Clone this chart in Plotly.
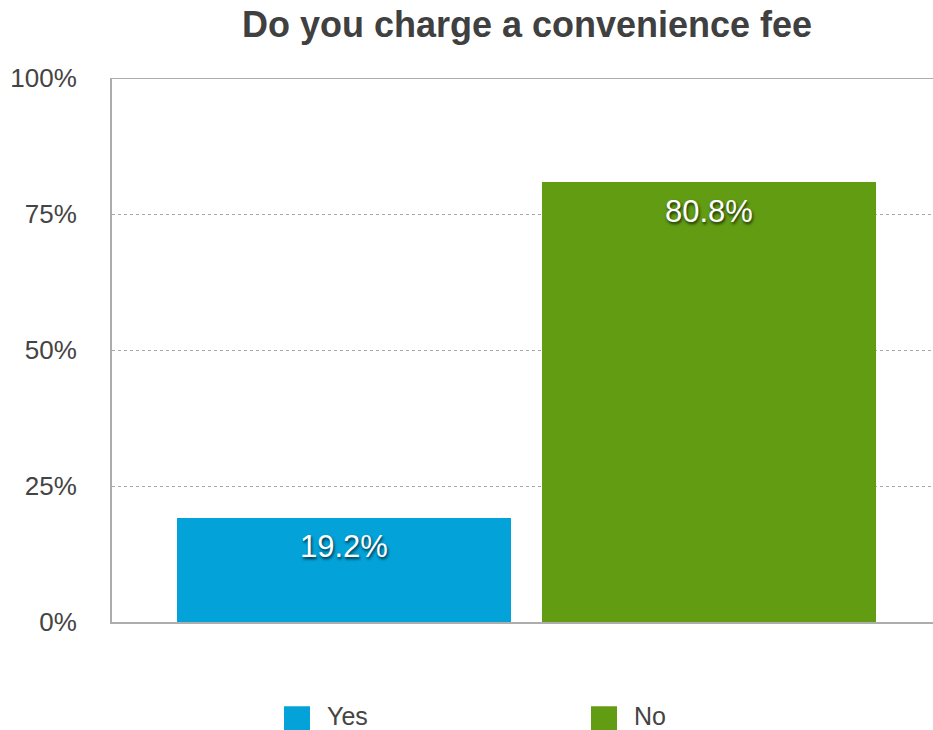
import plotly.graph_objects as go

# Survey answers and their shares
categories = ["Yes", "No"]
shares = [0.192, 0.808]
bar_colors = ["#03A3D9", "#629C13"]
tick_values = [0, 0.25, 0.5, 0.75, 1.0]
tick_text = ["0%", "25%", "50%", "75%", "100%"]

FONT = "Liberation Sans, Arial, Helvetica, sans-serif"
TEXT_COLOR = "#444444"
AXIS_COLOR = "#ADADAD"

fig = go.Figure()
for cat, val, col in zip(categories, shares, bar_colors):
    fig.add_trace(go.Bar(
        x=[cat], y=[val], name=cat, marker=dict(color=col, line=dict(width=0)),
        width=0.915, showlegend=False, hoverinfo="skip",
    ))
    # value label inside the top of each bar
    fig.add_annotation(
        x=cat, y=val, xref="x", yref="y", yshift=-29,
        text=f"{val * 100:.1f}%", showarrow=False,
        font=dict(family=FONT, size=31, color="white",
                  shadow="1px 2px 3px rgba(0,0,0,0.75)"),
    )

# solid line closing the top of the plot area
fig.add_shape(type="line", xref="paper", yref="y", x0=0, x1=1, y0=1, y1=1,
              line=dict(color=AXIS_COLOR, width=2))

# legend drawn as swatches with labels below the chart
legend_x = [284, 591]
for cat, col, lx in zip(categories, bar_colors, legend_x):
    fig.add_shape(type="rect", xref="paper", yref="paper",
                  x0=(lx - 112) / 821, x1=(lx + 26 - 112) / 821,
                  y0=-(733 - 621.7) / 544.2, y1=-(706 - 621.7) / 544.2,
                  fillcolor=col, line=dict(width=0))
    fig.add_annotation(xref="paper", yref="paper",
                       x=(lx + 41 - 112) / 821, y=-(716 - 621.7) / 544.2,
                       xanchor="left", yanchor="middle", text=cat, showarrow=False,
                       font=dict(family=FONT, size=25, color=TEXT_COLOR))

fig.update_layout(
    width=933, height=730,
    margin=dict(l=112, r=0, t=77.5, b=108.3),
    paper_bgcolor="white", plot_bgcolor="white",
    bargap=0,
    title=dict(text="<b>Do you charge a convenience fee</b>",
               x=527 / 933, xanchor="center", y=1 - 24 / 730, yanchor="middle",
               font=dict(family=FONT, size=36, color="#404040")),
    xaxis=dict(type="category", range=[-0.6356, 1.6137], showticklabels=False,
               showgrid=False, zeroline=False, showline=True,
               linecolor=AXIS_COLOR, linewidth=2, ticks=""),
    yaxis=dict(range=[0, 1], tickvals=tick_values, ticktext=tick_text,
               showgrid=True, gridcolor="#A8A8A8", gridwidth=1.2, griddash="3px,3px",
               zeroline=False, showline=True, linecolor=AXIS_COLOR, linewidth=2,
               ticks="", ticklabelstandoff=28,
               tickfont=dict(family=FONT, size=26, color=TEXT_COLOR)),
    showlegend=False,
)

fig.write_html("out.html")
